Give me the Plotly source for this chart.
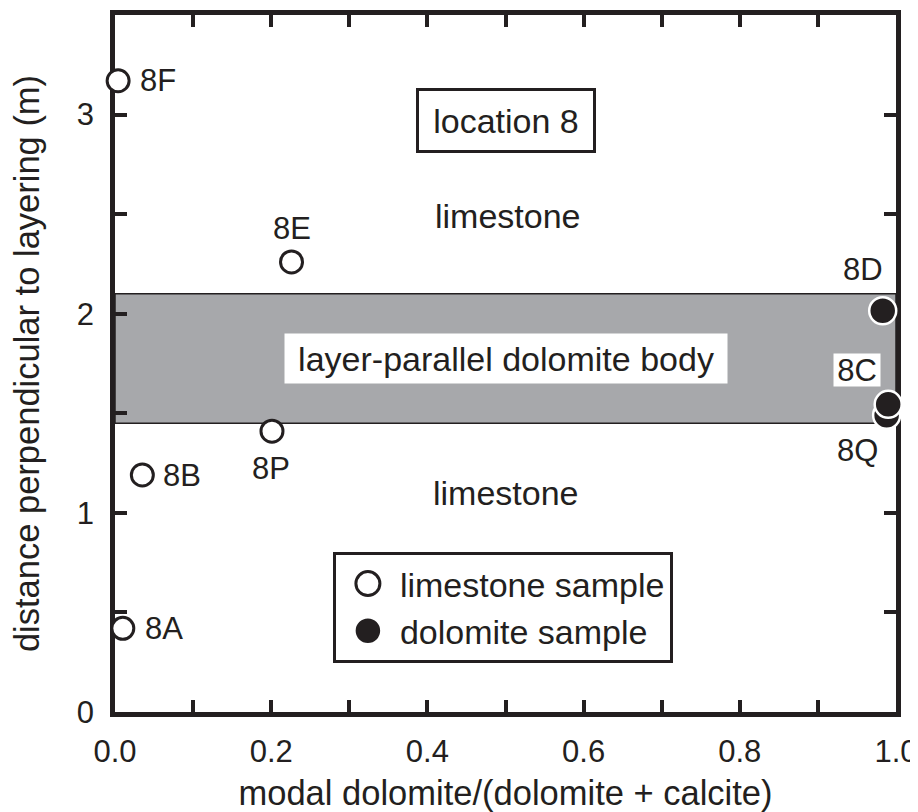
import plotly.graph_objects as go

# ---- data ----
lime_names = ["8F", "8E", "8P", "8B", "8A"]
lime_x = [0.004, 0.226, 0.201, 0.035, 0.010]
lime_y = [3.17, 2.26, 1.41, 1.19, 0.42]

dolo_names = ["8D", "8Q", "8C"]
dolo_x = [0.983, 0.988, 0.990]
dolo_y = [2.015, 1.49, 1.545]

band_y = [1.45, 2.10]  # layer-parallel dolomite body

x_tickvals = [0.0, 0.1, 0.2, 0.3, 0.4, 0.5, 0.6, 0.7, 0.8, 0.9, 1.0]
x_ticktext = ["0.0", "", "0.2", "", "0.4", "", "0.6", "", "0.8", "", "1.0"]
y_tickvals = [0, 0.5, 1, 1.5, 2, 2.5, 3]
y_ticktext = ["0", "", "1", "", "2", "", "3"]

# ---- styling ----
FONT = "Liberation Sans, Arial, Helvetica, sans-serif"
INK = "#231f20"
BAND = "#a7a8ab"
TXT = 34
TTL = 34.5
LBL = 31

label_shift = {
    "8F": (40, 0), "8E": (0, 33), "8P": (-1, -37), "8B": (40, 0), "8A": (41, 0),
    "8D": (-20, 41), "8C": (-31, 34), "8Q": (-29, -35),
}

fig = go.Figure()

fig.add_shape(type="rect", xref="x", yref="y", x0=0, x1=1, y0=band_y[0], y1=band_y[1],
              fillcolor=BAND, line=dict(color=INK, width=1.5), layer="below")

fig.add_trace(go.Scatter(
    x=lime_x, y=lime_y, mode="markers", name="limestone sample",
    marker=dict(symbol="circle", size=22, color="white", line=dict(color=INK, width=3)),
    cliponaxis=False, hoverinfo="skip"))
fig.add_trace(go.Scatter(
    x=dolo_x, y=dolo_y, mode="markers", name="dolomite sample",
    marker=dict(symbol="circle", size=27, color=INK, line=dict(color="white", width=2.5)),
    cliponaxis=False, hoverinfo="skip"))

annotations = []
for names, xs, ys in ((lime_names, lime_x, lime_y), (dolo_names, dolo_x, dolo_y)):
    for n, x, y in zip(names, xs, ys):
        dx, dy = label_shift[n]
        a = dict(x=x, y=y, xref="x", yref="y", text=n, showarrow=False,
                 xshift=dx, yshift=dy, font=dict(size=LBL, color=INK, family=FONT))
        if n == "8C":
            a.update(bgcolor="white", borderpad=0, width=46, height=32)
        annotations.append(a)

annotations += [
    dict(x=0.501, y=2.97, xref="x", yref="y", text="location 8", showarrow=False,
         font=dict(size=TXT, color=INK, family=FONT), bordercolor=INK, borderwidth=3,
         borderpad=7, width=160, height=45, bgcolor="white"),
    dict(x=0.503, y=2.49, xref="x", yref="y", text="limestone", showarrow=False,
         font=dict(size=TXT, color=INK, family=FONT)),
    dict(x=0.50, y=1.10, xref="x", yref="y", text="limestone", showarrow=False,
         font=dict(size=TXT, color=INK, family=FONT)),
    dict(x=0.501, y=1.776, xref="x", yref="y", text="layer-parallel dolomite body",
         showarrow=False, font=dict(size=TXT, color=INK, family=FONT),
         bgcolor="white", borderpad=5, width=432, height=39),
]

axis_common = dict(
    showline=True, linecolor=INK, linewidth=4.5, mirror="ticks",
    ticks="inside", ticklen=12, tickwidth=3.5, tickcolor=INK,
    showgrid=False, zeroline=False, layer="below traces", automargin=False,
    tickfont=dict(size=LBL, color=INK, family=FONT),
)

# the page body adds an 8px offset, so the figure is sized to fit the 918x812 window
fig.update_layout(
    width=910, height=804,
    margin=dict(l=107, r=22, t=7, b=100),
    paper_bgcolor="white", plot_bgcolor="white",
    font=dict(family=FONT, color=INK),
    showlegend=True,
    legend=dict(x=0.279, y=0.2296, xanchor="left", yanchor="top",
                bordercolor=INK, borderwidth=3, bgcolor="white",
                font=dict(size=TXT, color=INK, family=FONT),
                itemwidth=54, itemsizing="trace"),
    annotations=annotations,
    xaxis=dict(range=[0, 1], tickmode="array", tickvals=x_tickvals, ticktext=x_ticktext,
               title=dict(text="modal dolomite/(dolomite + calcite)",
                          font=dict(size=TTL, color=INK, family=FONT), standoff=19),
               ticklabelstandoff=8, **axis_common),
    yaxis=dict(range=[0, 3.5], tickmode="array", tickvals=y_tickvals, ticktext=y_ticktext,
               title=dict(text="distance perpendicular to layering (m)",
                          font=dict(size=TTL, color=INK, family=FONT), standoff=28),
               ticklabelstandoff=10, **axis_common),
)

# enlarge the legend symbols (plotly caps them at 16 px) to match the reference
post = """
var gd = document.getElementById('{plot_id}');
function enlargeLegend() {
  var pts = gd.querySelectorAll('.legend .legendpoints path.scatterpts');
  var radii = [12, 13.5];
  pts.forEach(function(p, i) {
    var r = radii[Math.min(i, radii.length - 1)];
    p.setAttribute('d', 'M' + r + ',0A' + r + ',' + r + ' 0 1,1 0,-' + r +
                   'A' + r + ',' + r + ' 0 0,1 ' + r + ',0Z');
  });
}
enlargeLegend();
gd.on('plotly_afterplot', enlargeLegend);
"""

fig.write_html("out.html", post_script=post)
